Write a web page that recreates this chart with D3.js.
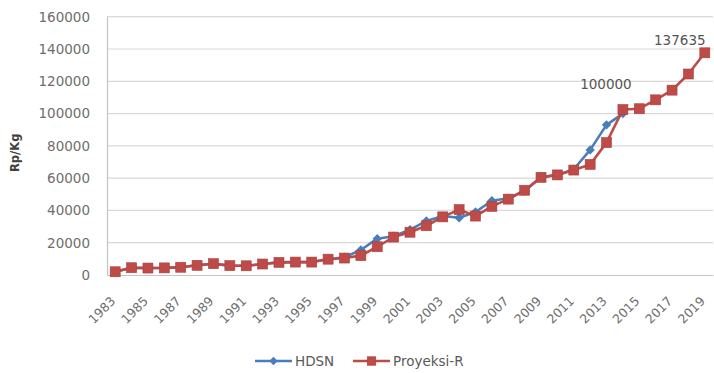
<!DOCTYPE html>
<html>
<head>
<meta charset="utf-8">
<script src="https://cdn.jsdelivr.net/npm/d3@7/dist/d3.min.js"></script>
<style>
  html, body { margin: 0; padding: 0; background: #ffffff; }
  svg { display: block; font-family: "DejaVu Sans", sans-serif; }
</style>
</head>
<body>
<svg id="chart" width="714" height="373"></svg>
<script>
// Years on the category axis
const years = d3.range(1983, 2020);

// Price series, Rp per kg
const proyeksiR = [
  2000, 4500, 4300, 4400, 4800, 6000, 7000, 5800, 5700, 6800,
  7800, 8000, 8000, 9800, 10500, 12000, 17500, 23500, 26500, 30500,
  36000, 40500, 36500, 42500, 47000, 52500, 60500, 62000, 65000, 68500,
  82000, 102500, 103000, 108500, 114500, 124500, 137635
];
const hdsn = [
  2000, 4500, 4300, 4400, 4800, 6000, 7000, 5800, 5700, 6800,
  7800, 8000, 8000, 9800, 11000, 15500, 22500, 24000, 28000, 33500,
  36500, 35500, 39000, 46000, 47500, 52000, 60500, 62000, 65500, 77500,
  93000, 100000
];

// Axis ticks and labels
const yTicks = [0, 20000, 40000, 60000, 80000, 100000, 120000, 140000, 160000];
const xTickYears = years.filter(y => (y - 1983) % 2 === 0);

// Annotated values
const annotations = [
  { series: "hdsn", year: 2014, text: "100000", dx: -17, dy: -29 },
  { series: "proyeksi", year: 2019, text: "137635", dx: -25, dy: -13 }
];

const seriesInfo = [
  { key: "hdsn", name: "HDSN", color: "#4a7ebb", values: hdsn, marker: "diamond" },
  { key: "proyeksi", name: "Proyeksi-R", color: "#be4b48", values: proyeksiR, marker: "square" }
];

const svg = d3.select("#chart");
const margin = { left: 107, right: 1, top: 16.7, bottom: 98 };
const W = 714, H = 373;

const x = d3.scaleBand()
  .domain(years)
  .range([margin.left, W - margin.right])
  .paddingInner(0).paddingOuter(0);
const xc = yr => x(yr) + x.bandwidth() / 2;

const y = d3.scaleLinear()
  .domain([0, 160000])
  .range([H - margin.bottom, margin.top]);

// Horizontal gridlines
svg.append("g")
  .selectAll("line")
  .data(yTicks.filter(d => d > 0))
  .join("line")
  .attr("x1", margin.left).attr("x2", W - margin.right)
  .attr("y1", d => y(d)).attr("y2", d => y(d))
  .attr("stroke", "#d9d9d9").attr("stroke-width", 1.2);

// Y axis
const yAxis = svg.append("g")
  .attr("transform", `translate(${margin.left},0)`)
  .call(d3.axisLeft(y).tickValues(yTicks).tickSize(0).tickPadding(17).tickFormat(d3.format("d")));
yAxis.select(".domain").attr("stroke", "#c4c4c4").attr("stroke-width", 1.2);
yAxis.selectAll("text").attr("fill", "#6e6e6e").style("font-size", "13.5px")
  .style("font-family", "DejaVu Sans, sans-serif");

// X axis
const xAxis = svg.append("g")
  .attr("transform", `translate(0,${y(0)})`)
  .call(d3.axisBottom(x).tickValues(xTickYears).tickSize(0).tickPadding(0));
xAxis.select(".domain").attr("stroke", "#c4c4c4").attr("stroke-width", 1.2);
xAxis.selectAll("text")
  .attr("fill", "#6e6e6e").style("font-size", "12.5px")
  .style("font-family", "DejaVu Sans, sans-serif")
  .attr("text-anchor", "end")
  .attr("dy", null).attr("y", 0)
  .attr("transform", "translate(1,27) rotate(-45)");

// Y axis title
svg.append("text")
  .attr("transform", `translate(19,${(y(0) + y(160000)) / 2 + 7}) rotate(-90)`)
  .attr("text-anchor", "middle")
  .attr("fill", "#404040")
  .style("font-size", "11.5px").style("font-weight", "bold")
  .text("Rp/Kg");

// Lines and markers
const line = d3.line().x((d, i) => xc(years[i])).y(d => y(d));

function drawMarker(g, type, color, size) {
  if (type === "square") {
    g.append("rect")
      .attr("x", -size / 2).attr("y", -size / 2)
      .attr("width", size).attr("height", size)
      .attr("fill", color).attr("stroke", d3.color(color).darker(0.4)).attr("stroke-width", 0.6);
  } else {
    g.append("path")
      .attr("d", d3.symbol(d3.symbolDiamond2, size * size * 0.7)())
      .attr("fill", color);
  }
}

seriesInfo.forEach(s => {
  const g = svg.append("g");
  g.append("path")
    .datum(s.values)
    .attr("d", line)
    .attr("fill", "none")
    .attr("stroke", s.color)
    .attr("stroke-width", 2.6)
    .attr("stroke-linejoin", "round");
  g.selectAll("g.mk")
    .data(s.values)
    .join("g")
    .attr("class", "mk")
    .attr("transform", (d, i) => `translate(${xc(years[i])},${y(d)})`)
    .each(function () { drawMarker(d3.select(this), s.marker, s.color, s.marker === "square" ? 10 : 9); });
});

// Value labels
annotations.forEach(a => {
  const s = seriesInfo.find(d => d.key === a.series);
  const v = s.values[years.indexOf(a.year)];
  svg.append("text")
    .attr("x", xc(a.year) + a.dx)
    .attr("y", y(v) + a.dy)
    .attr("dy", "0.35em")
    .attr("text-anchor", "middle")
    .attr("fill", "#555555")
    .style("font-size", "13.5px")
    .text(a.text);
});

// Legend
const legend = svg.append("g").attr("transform", "translate(0,361)");
const legendItems = [
  { s: seriesInfo[0], x0: 255 },
  { s: seriesInfo[1], x0: 353 }
];
legendItems.forEach(it => {
  const g = legend.append("g").attr("transform", `translate(${it.x0},0)`);
  g.append("line").attr("x1", 0).attr("x2", 37).attr("y1", 0).attr("y2", 0)
    .attr("stroke", it.s.color).attr("stroke-width", 2.6);
  const mk = g.append("g").attr("transform", "translate(18.5,0)");
  drawMarker(mk, it.s.marker, it.s.color, it.s.marker === "square" ? 8.5 : 8);
  g.append("text").attr("x", 40).attr("y", 0).attr("dy", "0.36em")
    .attr("fill", "#5a5a5a").style("font-size", "13.5px")
    .text(it.s.name);
});
</script>
</body>
</html>
